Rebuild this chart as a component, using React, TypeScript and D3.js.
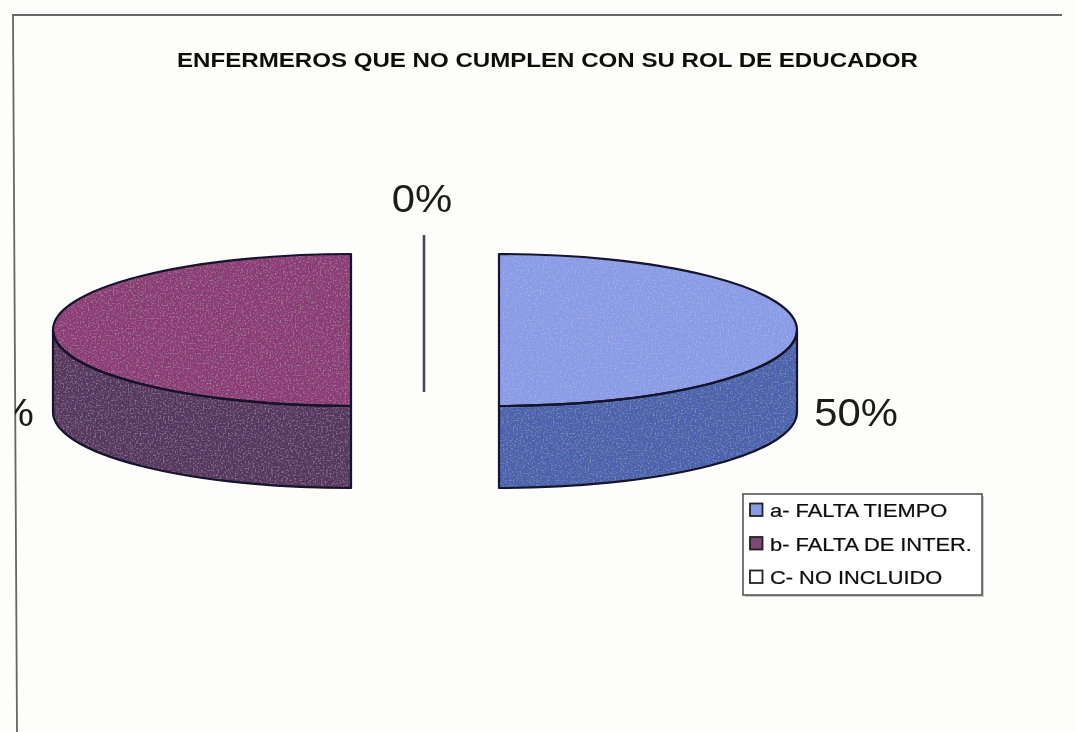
import React from "react";
import * as d3 from "d3";

const categories = ["a- FALTA TIEMPO", "b- FALTA DE INTER.", "C- NO INCLUIDO"];
const values = [50, 50, 0];
const pctLabels = ["50%", "50%", "0%"];
const topColors = ["#8a9be6", "#8a3a76", "#ffffff"];
const sideColors = ["#4862ab", "#56345e", "#ffffff"];
const swatchColors = ["#8a9be6", "#7d4a72", "#ffffff"];
const title = "ENFERMEROS QUE NO CUMPLEN CON SU ROL DE EDUCADOR";

const FONT = "'Liberation Sans', Arial, sans-serif";
const RX = 298;
const RY = 76;
const DEPTH = 82;
const centers = [
  { x: 499, y: 330 },
  { x: 351, y: 330 },
  { x: 424, y: 314 },
];
const labelPos = [
  { x: 856, y: 426, a: "middle" },
  { x: 34, y: 426, a: "end" },
  { x: 422, y: 212, a: "middle" },
];

const pieGen = d3.pie<number>().sort(null).value((d) => d);
const arcs = pieGen(values);

type C = { x: number; y: number };

function pt(c: C, a: number, dy = 0): [number, number] {
  return [c.x + RX * Math.sin(a), c.y - RY * Math.cos(a) + dy];
}

function rim(c: C, a: number, dy: number, sweep: 0 | 1) {
  const [x, y] = pt(c, a, dy);
  return `A${RX},${RY} 0 0 ${sweep} ${x},${y}`;
}

function topPath(c: C, s: number, e: number) {
  const [x0, y0] = pt(c, s);
  return `M${c.x},${c.y} L${x0},${y0} ${rim(c, e, 0, 1)} Z`;
}

function sidePath(c: C, s: number, e: number) {
  // visible outer wall: the lower half of the rim, from 90deg to 270deg
  const a0 = Math.max(s, Math.PI / 2);
  const a1 = Math.min(e, (3 * Math.PI) / 2);
  if (a1 <= a0) return "";
  const [x0, y0] = pt(c, a0);
  const [x1, y1] = pt(c, a1, DEPTH);
  return `M${x0},${y0} ${rim(c, a1, 0, 1)} L${x1},${y1} ${rim(c, a0, DEPTH, 0)} Z`;
}

export default function App() {
  const legendY = d3.scalePoint<string>().domain(categories).range([510, 577]);
  return (
    <svg
      width={1075}
      height={732}
      style={{ position: "absolute", left: 0, top: 0, background: "#fdfdfb" }}
    >
      <defs>
        <filter id="soft" x="-5%" y="-5%" width="110%" height="110%">
          <feGaussianBlur stdDeviation="0.6" />
        </filter>
        <filter id="grain" x="0" y="0" width="100%" height="100%">
          <feTurbulence type="fractalNoise" baseFrequency="0.6" numOctaves="1" seed="4" />
          <feColorMatrix values="0 0 0 0 1  0 0 0 0 1  0 0 0 0 1  0 0 0 0.55 -0.27" />
          <feComposite in2="SourceGraphic" operator="in" />
          <feMerge>
            <feMergeNode in="SourceGraphic" />
            <feMergeNode />
          </feMerge>
        </filter>
        <clipPath id="frameClip">
          <rect x={15} y={15} width={1060} height={717} />
        </clipPath>
      </defs>
      <g filter="url(#soft)">
        <path d="M1062,15 L13,15 L17,732" fill="none" stroke="#666" strokeWidth={1.8} />
        <text
          x={177}
          y={67}
          textLength={741}
          lengthAdjust="spacingAndGlyphs"
          fontFamily={FONT}
          fontWeight="bold"
          fontSize={21}
          fill="#111"
        >
          {title}
        </text>
        {arcs.map((d, i) => {
          const c = centers[i];
          if (d.endAngle - d.startAngle < 1e-6) {
            const [, y1] = pt(c, Math.PI, DEPTH);
            return (
              <line
                key={i}
                x1={c.x}
                x2={c.x}
                y1={c.y - RY - 3}
                y2={y1 - 80}
                stroke="#4a4a55"
                strokeWidth={2.6}
              />
            );
          }
          const side = sidePath(c, d.startAngle, d.endAngle);
          const top = topPath(c, d.startAngle, d.endAngle);
          return (
            <g key={i}>
              <path d={side} fill={sideColors[i]} filter="url(#grain)" />
              <path d={top} fill={topColors[i]} filter="url(#grain)" />
              <g fill="none" stroke="#15122a" strokeWidth={2.2} strokeLinejoin="round">
                <path d={side} />
                <path d={top} />
              </g>
            </g>
          );
        })}
        <g clipPath="url(#frameClip)" fontFamily={FONT} fontSize={38} fill="#1a1a1a">
          {labelPos.map((l, i) => (
            <text
              key={i}
              textAnchor={l.a as "middle" | "end"}
              transform={`translate(${l.x},${l.y}) scale(1.1,1)`}
            >
              {pctLabels[i]}
            </text>
          ))}
        </g>
        <rect x={745} y={496} width={239} height={101} fill="#c9c9c9" />
        <rect x={743} y={494} width={239} height={101} fill="#fff" stroke="#555" strokeWidth={1.6} />
        {categories.map((c, i) => (
          <g key={c}>
            <rect
              x={750}
              y={legendY(c)! - 6.5}
              width={12.5}
              height={12.5}
              fill={swatchColors[i]}
              stroke="#222"
              strokeWidth={1.8}
            />
            <text
              transform={`translate(770,${legendY(c)! + 7}) scale(1.15,1)`}
              fontFamily={FONT}
              fontSize={19}
              fill="#111"
              stroke="#111"
              strokeWidth={0.25}
            >
              {c}
            </text>
          </g>
        ))}
      </g>
    </svg>
  );
}
